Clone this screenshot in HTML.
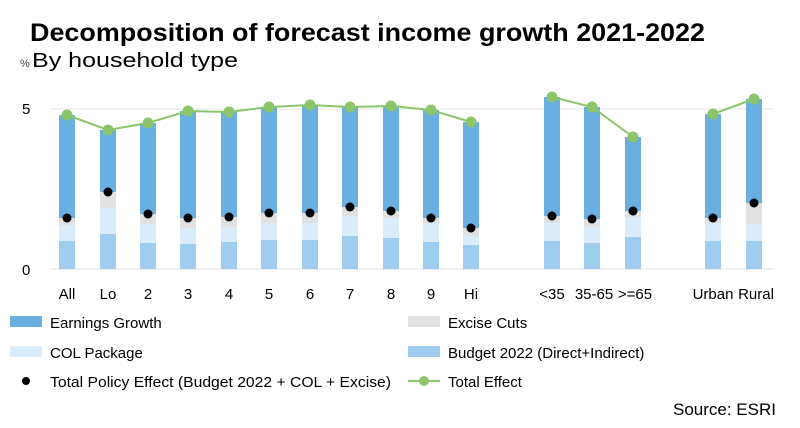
<!DOCTYPE html>
<html><head><style>
body{margin:0;background:#fff;}
svg{display:block;font-family:"Liberation Sans",Arial,sans-serif;}
.b{fill:#9fcdf0}.c{fill:#dbecfa}.e{fill:#e1e1e1}.g{fill:#6aafe2}
</style></head><body>
<svg width="800" height="428" viewBox="0 0 800 428">
<text x="30" y="41" font-size="25" font-weight="bold" fill="#000" textLength="675" lengthAdjust="spacingAndGlyphs">Decomposition of forecast income growth 2021-2022</text>
<text x="32" y="67" font-size="20" fill="#000" textLength="206" lengthAdjust="spacingAndGlyphs">By household type</text>
<text x="20" y="67" font-size="11" fill="#444">%</text>
<line x1="50" y1="109" x2="774" y2="109" stroke="#e6e6e6" stroke-width="1"/>
<line x1="50" y1="269" x2="774" y2="269" stroke="#e0e0e0" stroke-width="1"/>
<text x="22" y="114" font-size="15" fill="#000">5</text>
<text x="22" y="275" font-size="15" fill="#000">0</text>

<g>
<rect class="b" x="59" y="241" width="16" height="28"/><rect class="c" x="59" y="225" width="16" height="16"/><rect class="e" x="59" y="218" width="16" height="7"/><rect class="g" x="59" y="115" width="16" height="103"/>
<rect class="b" x="100" y="234" width="16" height="35"/><rect class="c" x="100" y="208" width="16" height="26"/><rect class="e" x="100" y="192" width="16" height="16"/><rect class="g" x="100" y="130" width="16" height="62"/>
<rect class="b" x="140" y="243" width="16" height="26"/><rect class="c" x="140" y="224" width="16" height="19"/><rect class="e" x="140" y="214" width="16" height="10"/><rect class="g" x="140" y="123" width="16" height="91"/>
<rect class="b" x="180" y="244" width="16" height="25"/><rect class="c" x="180" y="228" width="16" height="16"/><rect class="e" x="180" y="218" width="16" height="10"/><rect class="g" x="180" y="111" width="16" height="107"/>
<rect class="b" x="221" y="242" width="16" height="27"/><rect class="c" x="221" y="227" width="16" height="15"/><rect class="e" x="221" y="217" width="16" height="10"/><rect class="g" x="221" y="112" width="16" height="105"/>
<rect class="b" x="261" y="240" width="16" height="29"/><rect class="c" x="261" y="223" width="16" height="17"/><rect class="e" x="261" y="213" width="16" height="10"/><rect class="g" x="261" y="107" width="16" height="106"/>
<rect class="b" x="302" y="240" width="16" height="29"/><rect class="c" x="302" y="223" width="16" height="17"/><rect class="e" x="302" y="213" width="16" height="10"/><rect class="g" x="302" y="105" width="16" height="108"/>
<rect class="b" x="342" y="236" width="16" height="33"/><rect class="c" x="342" y="216" width="16" height="20"/><rect class="e" x="342" y="207" width="16" height="9"/><rect class="g" x="342" y="107" width="16" height="100"/>
<rect class="b" x="383" y="238" width="16" height="31"/><rect class="c" x="383" y="218" width="16" height="20"/><rect class="e" x="383" y="211" width="16" height="7"/><rect class="g" x="383" y="106" width="16" height="105"/>
<rect class="b" x="423" y="242" width="16" height="27"/><rect class="c" x="423" y="223" width="16" height="19"/><rect class="e" x="423" y="218" width="16" height="5"/><rect class="g" x="423" y="110" width="16" height="108"/>
<rect class="b" x="463" y="245" width="16" height="24"/><rect class="c" x="463" y="236" width="16" height="9"/><rect class="e" x="463" y="228" width="16" height="8"/><rect class="g" x="463" y="122" width="16" height="106"/>
<rect class="b" x="544" y="241" width="16" height="28"/><rect class="c" x="544" y="223" width="16" height="18"/><rect class="e" x="544" y="216" width="16" height="7"/><rect class="g" x="544" y="97" width="16" height="119"/>
<rect class="b" x="584" y="243" width="16" height="26"/><rect class="c" x="584" y="227" width="16" height="16"/><rect class="e" x="584" y="219" width="16" height="8"/><rect class="g" x="584" y="107" width="16" height="112"/>
<rect class="b" x="625" y="237" width="16" height="32"/><rect class="c" x="625" y="217" width="16" height="20"/><rect class="e" x="625" y="211" width="16" height="6"/><rect class="g" x="625" y="137" width="16" height="74"/>
<rect class="b" x="705" y="241" width="16" height="28"/><rect class="c" x="705" y="223" width="16" height="18"/><rect class="e" x="705" y="218" width="16" height="5"/><rect class="g" x="705" y="114" width="16" height="104"/>
<rect class="b" x="746" y="241" width="16" height="28"/><rect class="c" x="746" y="224" width="16" height="17"/><rect class="e" x="746" y="203" width="16" height="21"/><rect class="g" x="746" y="99" width="16" height="104"/>
</g>
<g fill="#000">
<circle cx="67" cy="218" r="4.5"/><circle cx="108" cy="192" r="4.5"/><circle cx="148" cy="214" r="4.5"/><circle cx="188" cy="218" r="4.5"/><circle cx="229" cy="217" r="4.5"/><circle cx="269" cy="213" r="4.5"/><circle cx="310" cy="213" r="4.5"/><circle cx="350" cy="207" r="4.5"/><circle cx="391" cy="211" r="4.5"/><circle cx="431" cy="218" r="4.5"/><circle cx="471" cy="228" r="4.5"/><circle cx="552" cy="216" r="4.5"/><circle cx="592" cy="219" r="4.5"/><circle cx="633" cy="211" r="4.5"/><circle cx="713" cy="218" r="4.5"/><circle cx="754" cy="203" r="4.5"/>
</g>
<g fill="none" stroke="#8cc56a" stroke-width="2">
<polyline points="67,115 108,130 148,123 188,111 229,112 269,107 310,105 350,107 391,106 431,110 471,122"/>
<polyline points="552,97 592,107 633,137"/>
<polyline points="713,114 754,99"/>
</g>
<g fill="#8cc56a">
<circle cx="67" cy="115" r="5.5"/><circle cx="108" cy="130" r="5.5"/><circle cx="148" cy="123" r="5.5"/><circle cx="188" cy="111" r="5.5"/><circle cx="229" cy="112" r="5.5"/><circle cx="269" cy="107" r="5.5"/><circle cx="310" cy="105" r="5.5"/><circle cx="350" cy="107" r="5.5"/><circle cx="391" cy="106" r="5.5"/><circle cx="431" cy="110" r="5.5"/><circle cx="471" cy="122" r="5.5"/><circle cx="552" cy="97" r="5.5"/><circle cx="592" cy="107" r="5.5"/><circle cx="633" cy="137" r="5.5"/><circle cx="713" cy="114" r="5.5"/><circle cx="754" cy="99" r="5.5"/>
</g>
<g font-size="15" fill="#000" text-anchor="middle">
<text x="67" y="299">All</text><text x="108" y="299">Lo</text><text x="148" y="299">2</text><text x="188" y="299">3</text><text x="229" y="299">4</text><text x="269" y="299">5</text><text x="310" y="299">6</text><text x="350" y="299">7</text><text x="391" y="299">8</text><text x="431" y="299">9</text><text x="471" y="299">Hi</text><text x="552" y="299">&lt;35</text><text x="594" y="299">35-65</text><text x="635" y="299">&gt;=65</text><text x="713" y="299">Urban</text><text x="756" y="299">Rural</text>
</g>
<g font-size="15" fill="#000">
<rect x="10" y="316" width="32" height="11" fill="#6aafe2"/><text x="50" y="328">Earnings Growth</text>
<rect x="408" y="316" width="32" height="11" fill="#e1e1e1"/><text x="448" y="328">Excise Cuts</text>
<rect x="10" y="346" width="32" height="11" fill="#dbecfa"/><text x="50" y="358">COL Package</text>
<rect x="408" y="346" width="32" height="11" fill="#9fcdf0"/><text x="448" y="358">Budget 2022 (Direct+Indirect)</text>
<circle cx="26" cy="381" r="4" fill="#000"/><text x="50" y="387" textLength="341" lengthAdjust="spacingAndGlyphs">Total Policy Effect (Budget 2022 + COL + Excise)</text>
<line x1="408" y1="381" x2="440" y2="381" stroke="#8cc56a" stroke-width="2"/><circle cx="424" cy="381" r="5" fill="#8cc56a"/><text x="448" y="387">Total Effect</text>
</g>
<text x="776" y="415" font-size="17" text-anchor="end" fill="#000">Source: ESRI</text>
</svg>
</body></html>
